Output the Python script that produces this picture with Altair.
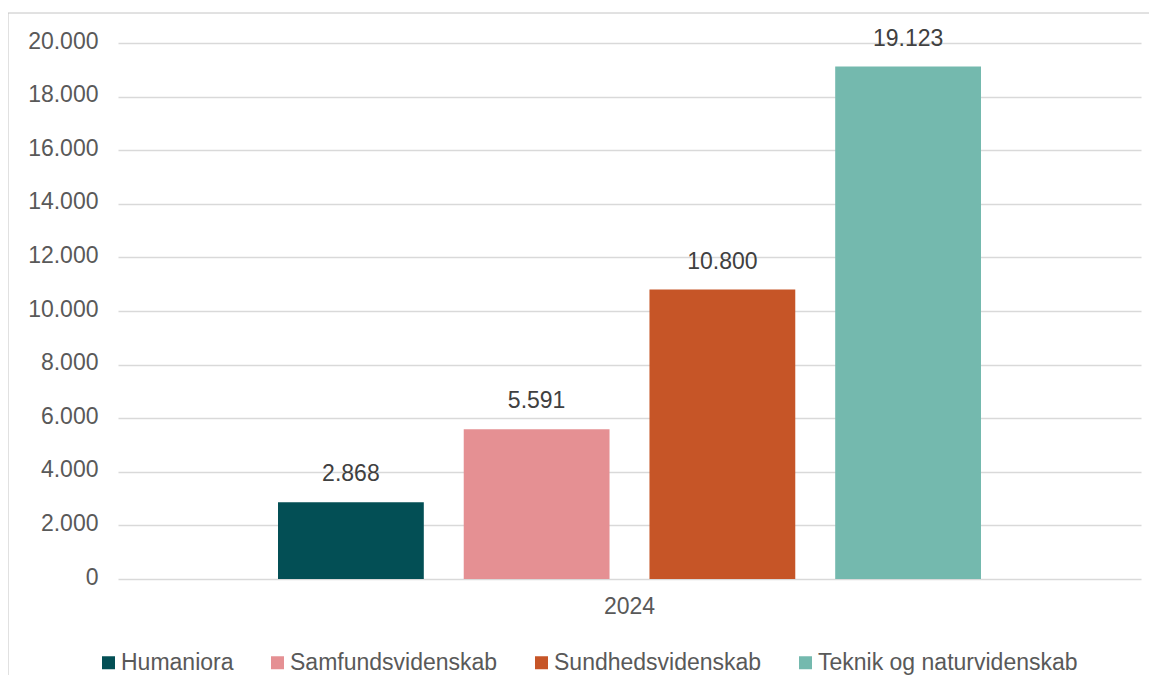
import altair as alt
import pandas as pd

years = ["2024", "2024", "2024", "2024"]
categories = ["Humaniora", "Samfundsvidenskab", "Sundhedsvidenskab", "Teknik og naturvidenskab"]
values = [2868, 5591, 10800, 19123]
colors = ["#034f55", "#e59093", "#c65527", "#74b9ae"]
y_ticks = [0, 2000, 4000, 6000, 8000, 10000, 12000, 14000, 16000, 18000, 20000]

df = pd.DataFrame({
    "year": years,
    "category": categories,
    "value": values,
    "label": [f"{v:,}".replace(",", ".") for v in values],
})

FONT = "Liberation Sans"
GREY = "#595959"

x_enc = alt.X("year:N", title=None,
              scale=alt.Scale(paddingInner=0, paddingOuter=0.2276),
              axis=alt.Axis(labelAngle=0, domain=False, ticks=False, labelPadding=16,
                            labelFontSize=23, labelColor=GREY, labelFont=FONT))
xo_enc = alt.XOffset("category:N", sort=categories,
                     scale=alt.Scale(paddingInner=0.215, paddingOuter=0))
y_enc = alt.Y("value:Q", title=None,
              scale=alt.Scale(domain=[0, 20000], nice=False),
              axis=alt.Axis(values=y_ticks, domain=False, ticks=False, labelPadding=20,
                            labelFontSize=23, labelColor=GREY, labelFont=FONT,
                            labelOffset=-2,
                            labelExpr="replace(format(datum.value, ','), ',', '.')",
                            gridColor="#d9d9d9", gridWidth=1.5))

bars = alt.Chart(df).mark_bar().encode(
    x=x_enc,
    xOffset=xo_enc,
    y=y_enc,
    color=alt.Color("category:N", sort=categories,
                    scale=alt.Scale(domain=categories, range=colors),
                    legend=alt.Legend(title=None, orient="none", direction="horizontal",
                                      legendX=-21, legendY=608,
                                      symbolType="square", symbolSize=169,
                                      symbolStrokeWidth=0, labelLimit=600,
                                      labelFontSize=23, labelColor=GREY, labelFont=FONT,
                                      labelOffset=1, columnPadding=32)),
)

labels = alt.Chart(df).mark_text(baseline="alphabetic", dy=-21, fontSize=23,
                                 color="#404040", font=FONT).encode(
    x=alt.X("year:N"),
    xOffset=alt.XOffset("category:N", sort=categories),
    y=alt.Y("value:Q"),
    text="label:N",
)

border = alt.Chart(pd.DataFrame({"a": [0]})).mark_rect(
    fill="transparent", stroke="#c4c4c4", strokeWidth=1, clip=False
).encode(
    x=alt.value(-110), x2=alt.value(1100),
    y=alt.value(-30), y2=alt.value(700),
)

chart = alt.layer(border, bars, labels).properties(
    width=1023, height=536,
    autosize=alt.AutoSizeParams(type="none"),
    padding={"left": 110, "top": 35, "right": 8, "bottom": 96},
).configure(font=FONT).configure_view(stroke=None)

chart.save("out.html", embed_options={"renderer": "svg", "actions": False})
